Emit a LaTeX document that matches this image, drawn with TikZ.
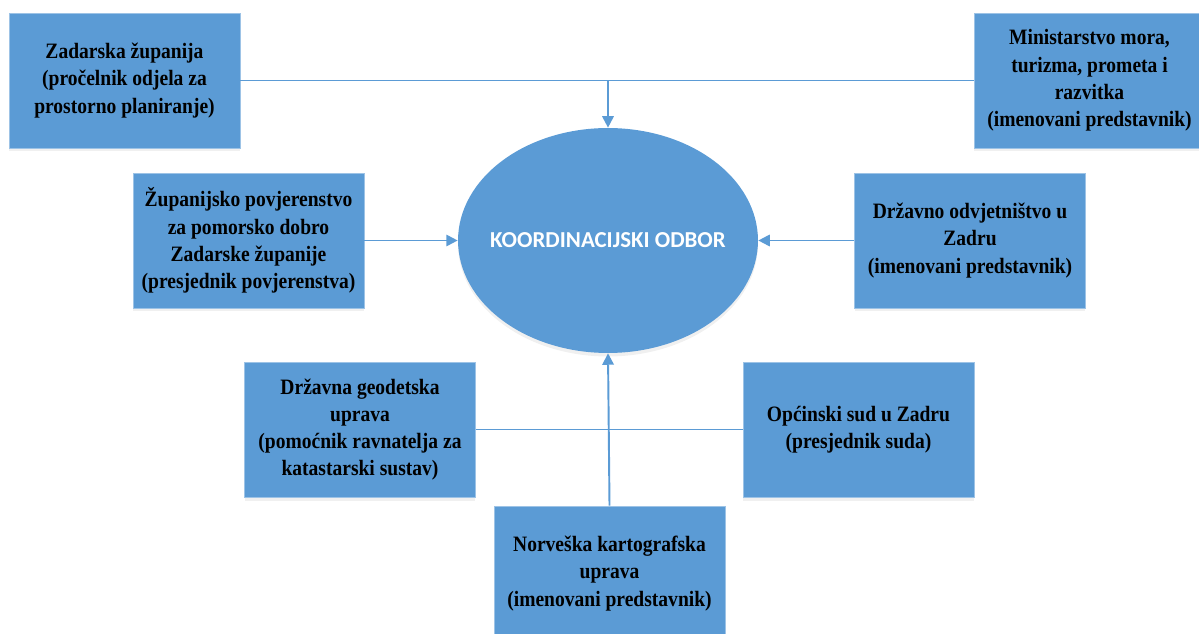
\documentclass[tikz,border=0pt]{standalone}
\usepackage{fontspec}
\setmainfont{Liberation Serif}[FakeStretch=0.89]
\newfontfamily\odborfont{Carlito}
\usetikzlibrary{arrows.meta, shapes.geometric, shadows}
\definecolor{orgBlue}{HTML}{5B9BD5}
\tikzset{
    orgBox/.style={rectangle, draw=orgBlue!60!white, fill=orgBlue, inner sep=0pt, minimum width=4.62cm, minimum height=2.7cm, align=center, font=\fontsize{12.5}{15.5}\selectfont\bfseries, drop shadow={opacity=0.12, shadow xshift=0pt, shadow yshift=-2pt}},
    odborEllipse/.style={ellipse, fill=orgBlue, inner sep=0pt, minimum width=6cm, minimum height=4.5cm, drop shadow={opacity=0.12, shadow xshift=0pt, shadow yshift=-2pt}},
    odborText/.style={text=white, inner sep=0pt, font=\odborfont\fontsize{13}{16}\selectfont\bfseries},
    orgLine/.style={draw=orgBlue, line width=1.1pt},
    orgArrow/.style={orgLine, -{Triangle[width=6.5pt, length=6.5pt]}},
}
\newcommand{\linkArrow}[2]{
    \draw[orgArrow] (#1) -- (#2);
}

\begin{document}
\begin{tikzpicture}[x=0.02cm, y=-0.02cm]
    \useasboundingbox (0,0) rectangle (1199,634);

    % centre
    \node[odborEllipse, label={[odborText]center:KOORDINACIJSKI ODBOR}] (odbor) at (608,240.5) {};

    % top row
    \node[orgBox] (zup) at (124.5,80.5) {Zadarska županija\\(pročelnik odjela za\\prostorno planiranje)};
    \node[orgBox] (min) at (1089.5,80.5) {Ministarstvo mora,\\turizma, prometa i\\razvitka\\(imenovani predstavnik)};

    % middle row
    \node[orgBox] (povj) at (248.5,240.5) {Županijsko povjerenstvo\\za pomorsko dobro\\Zadarske županije\\(presjednik povjerenstva)};
    \node[orgBox] (odvj) at (970,240.5) {Državno odvjetništvo u\\Zadru\\(imenovani predstavnik)};

    % bottom rows
    \node[orgBox] (dgu) at (360,429.5) {Državna geodetska\\uprava\\(pomoćnik ravnatelja za\\katastarski sustav)};
    \node[orgBox] (sud) at (858.5,429.5) {Općinski sud u Zadru\\(presjednik suda)};
    \node[orgBox] (nku) at (609.5,573.5) {Norveška kartografska\\uprava\\(imenovani predstavnik)};

    \coordinate (topJoin) at (odbor.north |- zup.east);
    \coordinate (botJoin) at (odbor.south |- dgu.east);

    % links
    \draw[orgLine] (zup.east) -- (min.west);
    \draw[orgLine] (dgu.east) -- (sud.west);
    \linkArrow{topJoin}{odbor.north}
    \linkArrow{povj.east}{odbor.west}
    \linkArrow{odvj.west}{odbor.east}
    \linkArrow{nku.north}{odbor.south}

\end{tikzpicture}
\end{document}
